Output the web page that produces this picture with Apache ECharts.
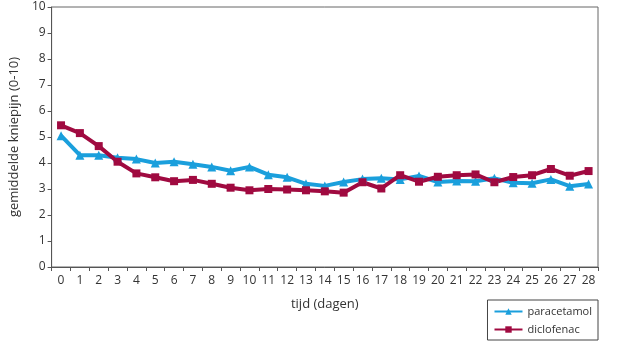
<!DOCTYPE html>
<html>
<head>
<meta charset="utf-8">
<script src="https://cdn.jsdelivr.net/npm/echarts@6/dist/echarts.min.js"></script>
<style>
  html, body { margin: 0; padding: 0; background: #fff; }
  #chart { width: 639px; height: 354px; }
</style>
</head>
<body>
<div id="chart"></div>
<script>
// dagen 0..28
var days = ['0','1','2','3','4','5','6','7','8','9','10','11','12','13','14',
            '15','16','17','18','19','20','21','22','23','24','25','26','27','28'];
var paracetamol = [5.05, 4.3, 4.3, 4.2, 4.15, 4.0, 4.05, 3.95, 3.85, 3.7, 3.85, 3.55, 3.45, 3.2, 3.12,
                   3.27, 3.38, 3.41, 3.37, 3.5, 3.27, 3.31, 3.3, 3.41, 3.24, 3.22, 3.37, 3.11, 3.19];
var diclofenac = [5.45, 5.15, 4.65, 4.05, 3.6, 3.45, 3.3, 3.35, 3.2, 3.05, 2.95, 3.0, 2.98, 2.95, 2.91,
                  2.86, 3.26, 3.02, 3.53, 3.28, 3.47, 3.53, 3.56, 3.26, 3.46, 3.53, 3.77, 3.51, 3.69];

var blue = '#1a9fdc';
var red = '#a00a40';
var font = 'Open Sans';

var chart = echarts.init(document.getElementById('chart'));
chart.setOption({
  animation: false,
  grid: {
    left: 40, right: 41, top: 7, bottom: 87,
    show: true, borderColor: '#666', borderWidth: 1
  },
  legend: {
    orient: 'vertical',
    right: 41, bottom: 14,
    padding: [6, 6, 5, 6],
    itemGap: 7,
    itemWidth: 28, itemHeight: 8,
    borderColor: '#444', borderWidth: 1,
    textStyle: { fontFamily: font, fontSize: 11, color: '#333' },
    data: ['paracetamol', 'diclofenac']
  },
  xAxis: {
    type: 'category',
    data: days,
    boundaryGap: true,
    name: 'tijd (dagen)',
    nameLocation: 'middle',
    nameGap: 31,
    nameTextStyle: { fontFamily: font, fontSize: 13, color: '#333' },
    axisLine: { lineStyle: { color: '#555' } },
    axisTick: { show: true, length: 4, alignWithLabel: false, lineStyle: { color: '#555' } },
    axisLabel: { interval: 0, fontFamily: font, fontSize: 12, color: '#333', margin: 8 },
    splitLine: { show: false }
  },
  yAxis: {
    type: 'value',
    min: 0, max: 10, interval: 1,
    name: 'gemiddelde kniepijn (0-10)',
    nameLocation: 'middle',
    nameGap: 27,
    nameTextStyle: { fontFamily: font, fontSize: 13, color: '#333' },
    axisLine: { show: true, lineStyle: { color: '#555' } },
    axisTick: { show: true, length: 4, lineStyle: { color: '#555' } },
    axisLabel: { fontFamily: font, fontSize: 12, color: '#333', margin: 6 },
    splitLine: { show: false }
  },
  series: [
    {
      name: 'paracetamol',
      type: 'line',
      data: paracetamol,
      symbol: 'triangle',
      symbolSize: 9,
      lineStyle: { color: blue, width: 4 },
      itemStyle: { color: blue }
    },
    {
      name: 'diclofenac',
      type: 'line',
      data: diclofenac,
      symbol: 'rect',
      symbolSize: 8,
      lineStyle: { color: red, width: 4 },
      itemStyle: { color: red }
    }
  ]
});
</script>
</body>
</html>
